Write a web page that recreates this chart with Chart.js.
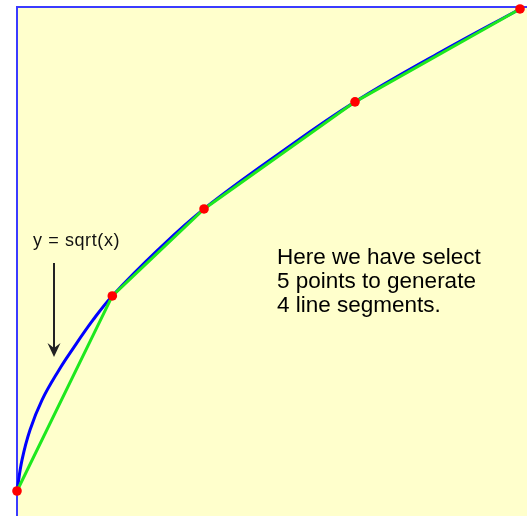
<!DOCTYPE html>
<html>
<head>
<meta charset="utf-8">
<script src="https://cdn.jsdelivr.net/npm/chart.js@4/dist/chart.umd.min.js"></script>
<style>
  body { margin: 0; background: #fff; }
  canvas { display: block; }
</style>
</head>
<body>
<canvas id="sqrtChart" width="527" height="516"></canvas>
<script>
// blue curve
const curveX = [0, 0.060, 0.155, 0.298, 0.501, 0.656, 0.907, 1.137, 1.682, 2.231, 3.137, 4.032, 5.016, 6.0];
const curveY = [0, 0.158, 0.310, 0.462, 0.615, 0.716, 0.869, 0.991, 1.225, 1.433, 1.717, 1.977, 2.221, 2.449];

// the 5 selected points (green segments go through them)
const pointX = [0, 1.137, 2.231, 4.032, 6.0];
const pointY = [0, 0.991, 1.433, 1.977, 2.449];

const curveLabel = 'y = sqrt(x)';
const noteLines = ['Here we have select', '5 points to generate', '4 line segments.'];

const toXY = (xs, ys) => xs.map((x, i) => ({ x: x, y: ys[i] }));

const FONT = '"Liberation Sans", Arial, sans-serif';

const backdrop = {
  id: 'backdrop',
  beforeDraw(chart) {
    const { ctx, chartArea: a } = chart;
    ctx.save();
    ctx.fillStyle = '#ffffcc';
    ctx.fillRect(a.left, a.top, a.right - a.left, a.bottom - a.top);
    ctx.strokeStyle = '#3b3bff';
    ctx.lineWidth = 2;
    ctx.beginPath();
    ctx.moveTo(a.left, a.bottom);
    ctx.lineTo(a.left, a.top);
    ctx.lineTo(a.right, a.top);
    ctx.stroke();
    ctx.restore();
  },
  afterDraw(chart) {
    const ctx = chart.ctx;
    ctx.save();
    ctx.fillStyle = '#111';
    ctx.font = '18px ' + FONT;
    ctx.letterSpacing = '0.6px';
    ctx.textBaseline = 'alphabetic';
    ctx.fillText(curveLabel, 33, 246);
    ctx.letterSpacing = '0px';

    // arrow
    ctx.strokeStyle = '#222';
    ctx.fillStyle = '#222';
    ctx.lineWidth = 2;
    ctx.beginPath();
    ctx.moveTo(54, 263);
    ctx.lineTo(54, 350);
    ctx.stroke();
    ctx.beginPath();
    ctx.moveTo(54, 357);
    ctx.lineTo(47.5, 343);
    ctx.lineTo(54, 348);
    ctx.lineTo(60.5, 343);
    ctx.closePath();
    ctx.fill();

    ctx.fillStyle = '#000';
    ctx.font = '22.5px ' + FONT;
    noteLines.forEach((line, i) => ctx.fillText(line, 277, 264 + i * 24));
    ctx.restore();
  }
};

new Chart(document.getElementById('sqrtChart').getContext('2d'), {
  type: 'scatter',
  data: {
    datasets: [
      {
        label: 'points',
        data: toXY(pointX, pointY),
        pointRadius: 4.8,
        pointBackgroundColor: '#ff0000',
        pointBorderWidth: 0,
        showLine: false,
        clip: false,
      },
      {
        label: 'segments',
        data: toXY(pointX, pointY),
        showLine: true,
        borderColor: '#1ee81e',
        borderWidth: 3,
        pointRadius: 0,
        clip: false,
      },
      {
        label: curveLabel,
        data: toXY(curveX, curveY),
        showLine: true,
        borderColor: '#0000ff',
        borderWidth: 3,
        pointRadius: 0,
        tension: 0.4,
        clip: false,
      },
    ],
  },
  options: {
    responsive: false,
    animation: false,
    layout: { autoPadding: false, padding: { left: 17, top: 7, right: 0, bottom: 0 } },
    plugins: { legend: { display: false }, tooltip: { enabled: false } },
    scales: {
      x: { display: false, min: 0, max: 6.0835 },
      y: { display: false, min: -0.127, max: 2.459 },
    },
  },
  plugins: [backdrop],
});
</script>
</body>
</html>
